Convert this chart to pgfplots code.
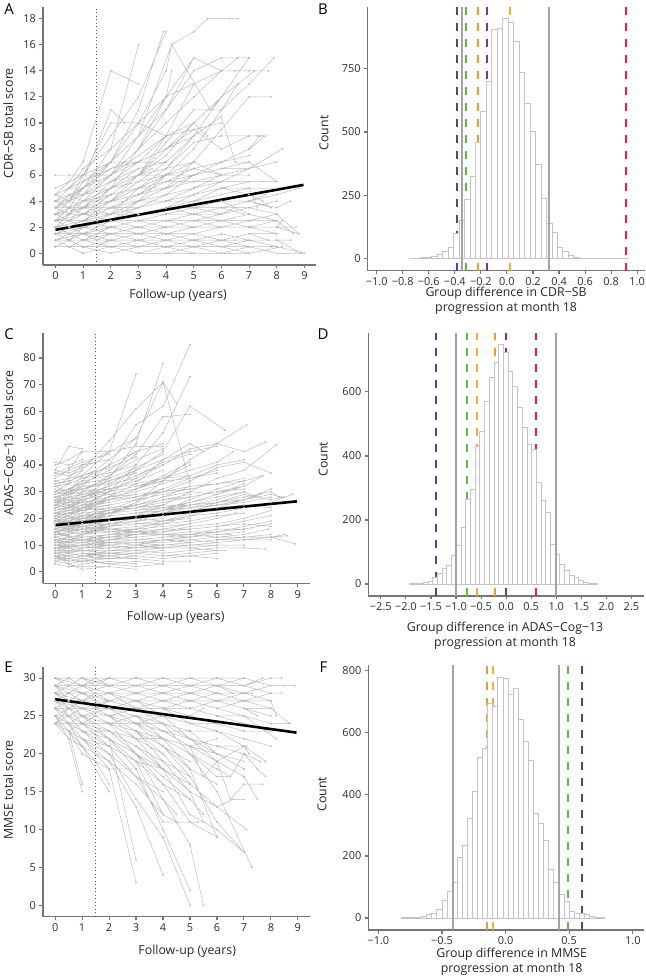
\documentclass[border=0pt]{standalone}
\usepackage{fontspec}
\setmainfont{Open Sans}
\usepackage{pgfplots}
\usepackage{pgfplotstable}
\pgfplotsset{compat=1.18}

\definecolor{trajgray}{HTML}{BDBDBD}
\definecolor{dotgray}{HTML}{A5A5A5}
\definecolor{histgray}{HTML}{C4C4C4}
\definecolor{solidgray}{HTML}{A3A3A3}
\definecolor{axgray}{HTML}{757575}
\definecolor{vblue}{HTML}{3A4F9A}
\definecolor{vgreen}{HTML}{5CB947}
\definecolor{vorange}{HTML}{EE9B2E}
\definecolor{vyellow}{HTML}{E6B23A}
\definecolor{vpurple}{HTML}{7B3294}
\definecolor{vred}{HTML}{E3242B}

% permutation histograms: left bin edge, count (last row = right edge)
\pgfplotstableread{
x y
-0.746 2
-0.704 3
-0.662 4
-0.620 4
-0.578 9
-0.536 16
-0.494 29
-0.452 45
-0.410 100
-0.368 153
-0.326 235
-0.284 326
-0.242 459
-0.200 582
-0.158 700
-0.116 905
-0.074 907
-0.032 947
0.010 931
0.052 859
0.094 734
0.136 612
0.178 501
0.220 372
0.262 236
0.304 140
0.346 105
0.388 46
0.430 29
0.472 13
0.514 7
0.556 3
0.598 0
0.640 0
0.682 0
0.724 0
0.766 0
0.808 0
0.850 0
0.892 0
0.934 0
}\histB

\pgfplotstableread{
x y
-1.935 1
-1.841 2
-1.747 3
-1.653 5
-1.559 8
-1.465 22
-1.371 33
-1.277 48
-1.183 58
-1.089 90
-0.995 121
-0.901 178
-0.807 265
-0.713 296
-0.619 431
-0.525 476
-0.431 569
-0.337 645
-0.243 691
-0.149 748
-0.055 722
0.039 665
0.133 618
0.227 551
0.321 488
0.415 436
0.509 419
0.603 318
0.697 260
0.791 223
0.885 124
0.979 93
1.073 62
1.167 42
1.261 27
1.355 20
1.449 10
1.543 6
1.637 3
1.731 1
1.825 1
}\histD

\pgfplotstableread{
x y
-0.82 1
-0.78 1
-0.74 2
-0.70 3
-0.66 5
-0.62 10
-0.58 14
-0.54 27
-0.50 56
-0.46 84
-0.42 116
-0.38 194
-0.34 234
-0.30 320
-0.26 407
-0.22 517
-0.18 549
-0.14 694
-0.10 682
-0.06 778
-0.02 772
0.02 723
0.06 740
0.10 640
0.14 569
0.18 510
0.22 337
0.26 304
0.30 250
0.34 158
0.38 116
0.42 75
0.46 54
0.50 20
0.54 16
0.58 14
0.62 10
0.66 4
0.70 1
0.74 1
0.78 1
}\histF

\pgfplotsset{
  panel/.style={
    scale only axis,
    axis x line*=bottom, axis y line*=left,
    axis line style={draw=axgray, line width=1.1bp, -},
    tick style={draw=axgray, line width=1.1bp},
    tick align=outside, major tick length=3.5bp,
    tick label style={font=\fontsize{11}{12}\selectfont, text=black!82},
    /pgf/number format/assume math mode=true,
    /pgf/number format/1000 sep={},
    label style={font=\fontsize{12.4}{15}\selectfont, text=black!85},
    xlabel style={align=center, anchor=center},
    ylabel style={anchor=center},
  },
  traj/.style={trajgray, line width=0.5bp, mark=*, mark size=0.55bp,
    mark options={fill=dotgray, draw=none}, unbounded coords=jump},
  vdash/.style={line width=2bp, dash pattern=on 8bp off 8bp},
  vsolid/.style={draw=solidgray, line width=1.8bp},
  hist/.style={ybar interval, draw=histgray, fill=white, line width=0.9bp},
  fup/.style={draw=black!65, line width=0.9bp, dash pattern=on 0.9bp off 2.6bp},
}

\begin{document}
\begin{tikzpicture}
\useasboundingbox (0,0) rectangle (646bp,978bp);

% ---------------- A: CDR-SB trajectories
\begin{axis}[panel, at={(43bp,713bp)}, anchor=south west,
  width=273bp, height=258bp,
  xmin=-0.45, xmax=9.42, ymin=-0.9, ymax=18.9,
  xtick={0,1,...,9}, ytick={0,2,...,18},
  xlabel={Follow-up (years)}, ylabel={CDR−SB total score},
  xlabel style={at={(axis description cs:0.495,-0.116)}},
  ylabel style={at={(axis description cs:-0.127,0.55)}},
]
\addplot[traj] coordinates {
(0,3)(0.5,4)(1,5)(2,7)(3,10)(4,14)(4.2,16)(5,17)(5.5,18)(6.3,18)(6.6,18)(nan,nan)
(0,4)(0.5,5)(1,6)(2,9)(3,12)(4,17)(nan,nan)
(0,2.5)(0.5,3)(1,4.5)(2,7)(3,11)(3.9,17)(nan,nan)
(0,3.5)(1,5)(1.5,6.5)(2,8)(3,16)(nan,nan)
(0,4.5)(0.5,5.5)(1,7)(2,14)(3,13)(nan,nan)
(0,2)(0.5,3)(1,4)(2,6)(3,9)(4.2,16)(5.6,11)(6,12)(nan,nan)
(0,3)(1,4)(2,5)(3,8)(4,11)(5,15)(6,14)(6.6,15)(7,15)(nan,nan)
(0,2)(1,2.5)(2,4)(3,6)(4,9)(5,13)(6,14)(7,14)(7.7,14)(nan,nan)
(0,1.5)(1,2)(2,3)(3,4)(4,6)(5,8)(6,11)(7,13)(7.9,15)(nan,nan)
(0,4)(0.5,5)(1,6)(1.5,8)(2,10)(3,10)(nan,nan)
(0,3)(0.5,4)(1,5.5)(2,11)(2.5,10)(nan,nan)
(0,2.5)(1,3.5)(2,5)(3,8)(4,12)(4.2,14)(nan,nan)
(0,3.5)(0.5,4)(1,6)(2,7)(3,10)(4,9)(nan,nan)
(0,1)(1,1.5)(2,2.5)(3,4)(4,5)(5,7)(6,9.5)(7,12)(7.8,12)(nan,nan)
(0,2)(1,2.5)(2,3)(3,5)(4,6.5)(5,9)(6,10.5)(6.5,7)(7,7)(nan,nan)
(0,3)(1,4)(2,6)(3,7)(4,8)(5,9.5)(6,8)(7,9)(7.5,9)(nan,nan)
(0,2.5)(0.5,3)(1,4)(2,5)(3,6)(4,6.5)(5,8.5)(6,9)(7,9)(7.3,9)(nan,nan)
(0,1.5)(1,2)(2,2.5)(3,3)(4,3.5)(5,4.5)(6,5.5)(7,6.5)(8.2,8)(nan,nan)
(0,4)(1,6)(2,7)(3,7)(nan,nan)
(0,3)(0.5,3.5)(1,5)(2,6)(3,9)(4,12)(5,15)(nan,nan)
(0,2)(1,3)(2,4)(3,6)(4,8.5)(5,11)(6,11)(6.6,13)(nan,nan)
(0,2)(0.5,2.5)(1,3)(2,3.5)(3,4.5)(4,5)(5,6)(6,6.5)(7,7)(8,5.5)(nan,nan)
(0,1.5)(0.5,2)(1,2)(2,3)(3,3.5)(4,4)(5,4)(6,5)(7,4.5)(7.5,4)(nan,nan)
(0,3)(0.5,3)(1,3.5)(2,4)(3,5)(4,5.5)(nan,nan)
(0,2.5)(0.5,3)(1,3)(2,4)(3,4.5)(4,6)(5,6)(nan,nan)
(0,3.5)(0.5,4)(1,4.5)(2,5)(3,6)(4,6)(nan,nan)
(0,4)(0.5,4)(1,5)(1.5,5.5)(2,6)(nan,nan)
(0,4.5)(0.5,5)(1,5)(2,6)(nan,nan)
(0,3)(0.5,3.5)(1,4)(2,4.5)(3,5)(4,5)(5,5.5)(6,5.5)(7,5.5)(8,5.5)(nan,nan)
(0,2)(1,2.5)(2,3)(3,3)(4,3.5)(5,4)(6,4)(7,4)(7.8,3.5)(nan,nan)
(0,2.5)(1,3)(2,3.5)(3,4)(4,4)(5,4.5)(6,5)(7,5)(7.3,3.5)(nan,nan)
(0,1)(0.5,1.5)(1,2)(2,2.5)(3,3)(4,3)(5,3.5)(6,4)(7,3)(8,2.5)(nan,nan)
(0,3)(1,3.5)(2,4)(3,4)(nan,nan)
(0,2)(0.5,2.5)(1,3)(2,3.5)(3,3.5)(4,4.5)(5,5)(nan,nan)
(0,1.5)(0.5,2)(1,2.5)(2,2.5)(3,3)(4,3.5)(5,3)(6,3.5)(7,3.5)(8,3)(8.8,1.5)(nan,nan)
(0,4)(0.5,4.5)(1,4.5)(2,5.5)(3,6)(nan,nan)
(0,2.5)(0.5,2.5)(1,3)(1.5,3.5)(2,4)(3,4.5)(4,5.5)(5,6)(6,6.5)(7,6.5)(nan,nan)
(0,1)(0.5,1)(1,1)(2,1)(3,1)(4,1.5)(5,1)(6,1.5)(7,1)(8,1)(8.5,1)(nan,nan)
(0,0.5)(0.5,0.5)(1,0.5)(2,0)(3,0.5)(4,0.5)(5,0)(6,0)(7,0.5)(8,0)(8.9,0)(nan,nan)
(0,1.5)(0.5,1)(1,1.5)(2,1.5)(3,2)(4,1.5)(5,2)(6,2)(7,2)(8,2)(8.8,1.5)(nan,nan)
(0,2)(0.5,2)(1,1.5)(2,2)(3,2)(4,2.5)(5,2)(6,2.5)(7,2.5)(8,2.5)(nan,nan)
(0,1)(0.5,0.5)(1,0.5)(2,0.5)(3,0)(4,0)(5,0.5)(6,0.5)(7,0)(8.2,0.5)(nan,nan)
(0,0.5)(0.5,1)(1,1)(2,0.5)(3,1)(4,1)(5,1)(6,0.5)(7,1)(8,1)(8.9,0)(nan,nan)
(0,1.5)(0.5,1.5)(1,2)(2,1.5)(3,1.5)(4,1)(5,1.5)(6,1)(7,1.5)(7.7,1)(nan,nan)
(0,2.5)(0.5,2)(1,2)(2,1.5)(3,1.5)(4,1)(5,1)(6,1)(7,1.5)(8,1.5)(nan,nan)
(0,1)(1,1)(2,1.5)(3,1)(4,1)(5,1.5)(6,2)(7,2)(8,2.5)(8.6,1.5)(nan,nan)
(0,2)(0.5,1.5)(1,1.5)(2,1)(3,0.5)(4,0.5)(5,0.5)(6,0)(7,0)(nan,nan)
(0,3)(0.5,2.5)(1,2.5)(2,2)(3,2)(4,1.5)(5,1.5)(6,2)(7,2)(8,2)(nan,nan)
(0,1.5)(1,2)(2,2)(3,2.5)(4,2.5)(5,3)(6,3)(7,3.5)(8,3)(nan,nan)
(0,0.5)(0.5,0.5)(1,1)(2,1)(3,1.5)(4,1.5)(5,2)(6,2)(7,2.5)(nan,nan)
(0,1)(0.5,1.5)(1,1)(2,1)(3,1)(4,0.5)(5,0.5)(6,0.5)(7,0.5)(7.8,0.5)(nan,nan)
(0,2)(0.5,2.5)(1,2)(2,2.5)(3,2.5)(4,3)(5,3)(6,2.5)(7,2)(8,2)(8.2,2.5)(nan,nan)
(0,3.5)(0.5,3)(1,3)(2,2.5)(3,2.5)(4,2)(5,2)(6,2.5)(7,2.5)(nan,nan)
(0,2.5)(0.5,2)(1,2.5)(2,3)(3,3)(4,3)(5,3.5)(6,3)(6.5,3.5)(7,3)(nan,nan)
(0,1.5)(0.5,1)(1,0.5)(2,0.5)(3,1)(4,1)(5,0.5)(6,1)(6.5,1)(nan,nan)
(0,0.5)(1,0.5)(2,0.5)(3,0)(4,0)(5,0)(6,0)(6.3,0)(nan,nan)
(0,1)(0.5,1.5)(1,2)(nan,nan)
(0,2)(0.5,2)(1,2.5)(2,3)(nan,nan)
(0,3)(0.5,3.5)(1,3)(nan,nan)
(0,4)(0.5,4.5)(1,4)(nan,nan)
(0,1.5)(0.5,1)(1,1.5)(2,1)(nan,nan)
(0,2.5)(0.5,3)(1,3.5)(2,4.5)(nan,nan)
(0,3.5)(0.5,3)(1,3.5)(2,3)(nan,nan)
(0,0.5)(0.5,1)(1,0.5)(2,1)(nan,nan)
(0,2)(0.5,2.5)(1,3)(1.5,3)(2,3.5)(nan,nan)
(0,3)(0.5,3.5)(1,4)(2,5)(nan,nan)
(0,4.5)(0.5,5)(1,5.5)(2,7)(nan,nan)
(0,1)(0.5,1.5)(1,1.5)(2,2)(3,2)(nan,nan)
(0,1.5)(0.5,2)(1,2)(2,2.5)(3,3)(4,3)(nan,nan)
(0,2.5)(0.5,2)(1,2)(2,2)(3,2.5)(4,2.5)(nan,nan)
(0,3)(0.5,2.5)(1,3)(2,3.5)(3,3)(nan,nan)
(0,0.5)(0.5,0.5)(1,0)(2,0.5)(nan,nan)
(0,4)(0.5,3.5)(1,4)(2,4.5)(3,5)(nan,nan)
(0,3.5)(0.5,4)(1,5)(2,6)(3,7)(4,7)(nan,nan)
(0,2)(0.5,1.5)(1,2)(2,2)(3,1.5)(nan,nan)
(0,1)(0.5,1)(1,1.5)(2,1.5)(3,2)(4,2)(5,2.5)(nan,nan)
(0,2.5)(0.5,3)(1,3)(2,3.5)(nan,nan)
(0,1.5)(0.5,2)(1,1.5)(nan,nan)
(0,3)(0.5,3)(1,3.5)(2,4)(3,4.5)(4,5)(5,6)(6,7)(nan,nan)
(0,4)(0.5,5)(1,5.5)(2,6.5)(3,7)(nan,nan)
(0,2)(0.5,2.5)(1,2)(2,3)(3,3.5)(4,4)(nan,nan)
(0,0.5)(0.5,1)(1,1)(2,1.5)(3,1)(4,1.5)(5,1)(nan,nan)
(0,1.5)(1,1.5)(2,2)(3,2)(4,2.5)(5,2.5)(6,3)(nan,nan)
(0,3.5)(0.5,3.5)(1,4)(2,4)(3,5)(4,6)(5,7)(6,6)(nan,nan)
(0,2.5)(1,3)(2,2.5)(3,3)(4,3.5)(nan,nan)
(0,1)(0.5,1)(1,1)(2,0.5)(3,0.5)(4,1)(nan,nan)
(0,2)(0.5,2)(1,2.5)(2,2.5)(3,2)(4,2)(5,2.5)(6,2.5)(7,3)(8,2.5)(nan,nan)
(0,3)(0.5,3.5)(1,3.5)(2,3)(3,3.5)(4,4)(nan,nan)
(0,4)(0.5,4)(1,4.5)(2,5)(3,6.5)(nan,nan)
(0,1.5)(0.5,1.5)(1,2)(2,2)(3,2.5)(4,3)(5,3.5)(6,4)(7,4.5)(nan,nan)
(0,1)(0.5,1.5)(1,2)(1.5,2.5)(2,3)(3,4)(4,5)(5,5.5)(nan,nan)
(0,2)(0.5,2.5)(1,3.5)(1.5,4)(2,5)(3,6)(4,6.5)(5,7)(nan,nan)
(0,3)(0.5,3)(1,4)(1.5,4.5)(2,5.5)(3,6.5)(4,7)(nan,nan)
(0,4)(0.5,4.5)(1,5)(1.5,6)(2,7)(3,7)(4,8)(5,9)(nan,nan)
(0,0.5)(0.5,1)(1,1.5)(1.5,1.5)(2,2)(3,2.5)(4,3)(5,3.5)(6,3)(nan,nan)
(0,1.5)(0.5,2)(1,2.5)(1.5,3)(2,3.5)(3,4.5)(4,5.5)(5,6.5)(6,6)(nan,nan)
(0,2.5)(0.5,3)(1,3.5)(1.5,4.5)(2,5.5)(3,7)(4,8)(nan,nan)
(0,3.5)(0.5,4)(1,4.5)(1.5,5)(2,6)(3,7.5)(4,9)(5,10)(nan,nan)
(0,4.5)(0.5,5)(1,6)(1.5,6.5)(2,7)(nan,nan)
(0,5)(0.5,5.5)(1,6)(2,6)(nan,nan)
(0,6)(0.5,6)(1,6)(1.5,6)(nan,nan)
(0,2)(0.5,2)(1,2)(1.5,2.5)(2,2.5)(3,3)(4,3.5)(5,4)(6,4.5)(7,5)(8,5)(nan,nan)
(0,1)(0.5,1)(1,1)(1.5,1.5)(2,1.5)(3,2)(4,2)(5,2)(6,2.5)(7,2)(8,1.5)(nan,nan)
(0,3)(0.5,3.5)(1,3.5)(1.5,4)(2,4.5)(3,5)(4,5.5)(5,5.5)(6,6)(7,6)(nan,nan)
(0,0.5)(0.5,0.5)(1,0.5)(1.5,0.5)(2,1)(3,0.5)(4,0.5)(5,1)(6,1)(7,1)(8,0.5)(nan,nan)
(0,1.5)(0.5,1.5)(1,1.5)(1.5,1)(2,1.5)(3,1.5)(4,2)(5,2.5)(6,3)(7,3.5)(8,4)(nan,nan)
(0,2.5)(0.5,2.5)(1,2)(1.5,2.5)(2,3)(3,3.5)(4,4)(5,5)(6,5.5)(nan,nan)
(0,3.5)(0.5,3)(1,3)(1.5,3.5)(2,3.5)(3,4)(4,4.5)(5,5)(nan,nan)
(0,4)(0.5,4)(1,3.5)(1.5,4)(2,4)(3,4.5)(4,5)(nan,nan)
(0,2)(0.5,3)(1,3)(2,4)(3,5.5)(4,7)(5,9)(6,12)(7.2,14)(nan,nan)
(0,1)(0.5,1)(1,2)(2,2.5)(3,3.5)(4,4.5)(5,6)(6,7)(7,8)(7.6,9)(nan,nan)
(0,3)(0.5,4)(1,4.5)(2,6)(3,8)(4,10)(5,12)(6,14)(6.5,14)(nan,nan)
(0,2.5)(1,3.5)(2,4.5)(3,6)(4,7.5)(5,10)(6,12)(7,15)(nan,nan)
(0,4)(0.5,5)(1,6.5)(2,8)(3,10)(4,12)(5,13)(nan,nan)
(0,3.5)(0.5,4.5)(1,5)(2,7)(3,9)(4,11)(5,14)(6,15)(6.6,15)(nan,nan)
(0,3)(1,3.5)(2,5)(3,6)(4,8)(5,10)(5.5,9)(nan,nan)
(0,1.5)(0.5,1.5)(1,2)(2,2)(3,2.5)(4,3)(5,3)(6,3.5)(7,4)(8,4.5)(8.8,5)(nan,nan)
(0,2)(0.5,2)(1,2.5)(2,3)(3,3)(4,3.5)(5,3.5)(6,4)(7,4)(7.6,4.5)(nan,nan)
(0,0.5)(0.5,1)(1,1)(2,1.5)(3,1.5)(4,2)(5,2)(6,2.5)(7,2)(8,2)(8.7,2)(nan,nan)
(0,1)(0.5,0.5)(1,1)(2,1)(3,1.5)(4,1)(5,1)(6,1.5)(7,1)(8,1)(nan,nan)
(0,1.5)(0.5,2)(1,1.5)(2,1.5)(3,2)(4,2)(5,2.5)(6,2)(7,2.5)(8,3)(nan,nan)
(0,2)(0.5,1.5)(1,1)(2,1)(3,1)(4,0.5)(5,0.5)(6,1)(7,0.5)(8,0.5)(9,0)(nan,nan)
(0,3)(0.5,2.5)(1,2)(2,2)(3,1.5)(4,1.5)(5,1)(6,1)(nan,nan)
(0,2.5)(0.5,2.5)(1,3)(2,3.5)(3,4.5)(4,5)(5,6)(6,7)(7,8)(7.4,9)(nan,nan)
(0,1)(0.5,1.5)(1,1.5)(1.5,2)(2,2)(3,2.5)(nan,nan)
(0,2)(0.5,2.5)(1,2.5)(1.5,3)(2,3)(3,3.5)(nan,nan)
(0,3)(0.5,3)(1,3)(1.5,3.5)(2,4)(3,4)(nan,nan)
(0,4)(0.5,4)(1,4.5)(1.5,5)(2,5.5)(3,6)(nan,nan)
(0,0.5)(0.5,0.5)(1,1)(1.5,1)(2,1)(nan,nan)
(0,1.5)(0.5,1.5)(1,1)(1.5,1.5)(2,1.5)(3,1.5)(nan,nan)
(0,2.5)(0.5,2)(1,2.5)(1.5,2.5)(2,3)(3,3)(nan,nan)
(0,3.5)(0.5,3.5)(1,3)(1.5,3.5)(2,4)(3,4.5)(nan,nan)
(0,4.5)(0.5,4)(1,4.5)(2,5)(3,5.5)(4,6)(nan,nan)
(0,1)(0.5,1)(1,0.5)(2,0.5)(3,0)(4,0.5)(nan,nan)
(0,2)(0.5,2)(1,1.5)(2,2)(3,1.5)(4,1)(5,1.5)(nan,nan)
(0,3)(0.5,2.5)(1,2.5)(2,2)(3,2.5)(4,2)(nan,nan)
(0,2)(1,3)(2,4.5)(3,5)(4,6)(5,6.5)(6,7)(7,7.5)(nan,nan)
(0,1.5)(1,2)(2,3)(3,3.5)(4,4.5)(5,5)(6,6)(7,6.5)(8,7)(nan,nan)
(0,3.5)(1,4.5)(2,6)(3,7)(4,9)(5,9.5)(6,10)(nan,nan)
(0,2.5)(0.5,3.5)(1,4)(2,5)(3,6)(3.5,6.5)(nan,nan)
(0,4)(0.5,4.5)(1,5)(2,6.5)(2.5,7)(3,8)(nan,nan)
(0,1)(0.5,1.5)(1,2)(2,2.5)(3,3.5)(4,4)(5,4.5)(6,5)(nan,nan)
(0,0.5)(0.5,1)(1,1.5)(2,2)(3,2)(4,2.5)(5,3)(6,3)(7,3.5)(nan,nan)
(0,2)(0.5,2)(1,2)(2,2.5)(3,3)(4,3)(5,3.5)(6,3.5)(7,4)(8,3.5)(8.5,4)(nan,nan)
(0,3)(0.5,3)(1,3.5)(2,3.5)(3,4)(4,4)(5,4.5)(6,5)(7,5.5)(7.5,5.5)(nan,nan)
(0,1.5)(0.5,2)(1,2)(2,2.5)(3,2.5)(4,3)(5,3)(6,3.5)(6.8,3)(nan,nan)
};
\addplot[fup] coordinates {(1.5,-0.9) (1.5,18.9)};
\addplot[black, line width=2.6bp] coordinates {(0,1.8) (8.97,5.25)};
\end{axis}

% ---------------- B: CDR-SB permutation histogram
\begin{axis}[panel, at={(367.7bp,707.3bp)}, anchor=south west,
  width=277.3bp, height=263.4bp,
  xmin=-1.069, xmax=1.06, ymin=-47, ymax=992,
  xtick={-1,-0.8,-0.6,-0.4,-0.2,0,0.2,0.4,0.6,0.8,1},
  xticklabels={−1.0,−0.8,−0.6,−0.4,−0.2,0.0,0.2,0.4,0.6,0.8,1.0},
  ytick={0,250,500,750},
  xlabel={Group difference in CDR−SB\\progression at month 18}, ylabel={Count},
  xlabel style={at={(axis description cs:0.499,-0.115)}},
  ylabel style={at={(axis description cs:-0.158,0.523)}},
]
\addplot[vdash, draw=vblue] coordinates {(-0.384,-47) (-0.384,992)};
\addplot[vdash, draw=vgreen] coordinates {(-0.315,-47) (-0.315,992)};
\addplot[vdash, draw=vorange] coordinates {(-0.22,-47) (-0.22,992)};
\addplot[vdash, draw=vpurple] coordinates {(-0.151,-47) (-0.151,992)};
\addplot[vdash, draw=vyellow] coordinates {(0.023,-47) (0.023,992)};
\addplot[vdash, draw=vred] coordinates {(0.913,-47) (0.913,992)};
\addplot[hist] table[x=x, y=y] {\histB};
\addplot[vsolid] coordinates {(-0.348,-47) (-0.348,992)};
\addplot[vsolid] coordinates {(0.325,-47) (0.325,992)};
\end{axis}

% ---------------- C: ADAS-Cog-13 trajectories
\begin{axis}[panel, at={(43bp,394.7bp)}, anchor=south west,
  width=267bp, height=250bp,
  xmin=-0.45, xmax=9.45, ymin=-4.25, ymax=89.25,
  xtick={0,1,...,9}, ytick={0,10,...,80},
  xlabel={Follow-up (years)}, ylabel={ADAS−Cog−13 total score},
  xlabel style={at={(axis description cs:0.497,-0.134)}},
  ylabel style={at={(axis description cs:-0.124,0.561)}},
]
\addplot[traj] coordinates {
(0,25)(0.5,28)(1,32)(2,40)(3,55)(4,62)(5,85)(nan,nan)
(0,22)(0.5,24)(1,27)(2,35)(3,48)(4,78)(nan,nan)
(0,28)(0.5,30)(1,36)(2,45)(3,74)(nan,nan)
(0,20)(1,24)(2,30)(3,40)(4,52)(5,73)(nan,nan)
(0,30)(0.5,33)(1,38)(2,49)(3,61)(4,71)(4.5,63)(nan,nan)
(0,18)(1,22)(2,28)(3,38)(4,45)(5,62)(6.3,53)(nan,nan)
(0,24)(0.5,26)(1,30)(2,36)(3,44)(4,58)(5,59)(nan,nan)
(0,15)(1,18)(2,21)(3,26)(4,34)(5,42)(6,48)(7.1,55)(nan,nan)
(0,32)(0.5,35)(1,40)(2,45)(3,50)(4,71)(5,33)(nan,nan)
(0,26)(0.5,29)(1,33)(2,38)(3,45)(4,48)(nan,nan)
(0,35)(0.5,38)(1,45)(2,45)(3,47)(4,47)(nan,nan)
(0,21)(0.5,23)(1,25)(2,30)(3,35)(4,40)(5,46)(6,48)(7,45)(7.8,48.5)(nan,nan)
(0,12)(1,14)(2,17)(3,21)(4,25)(5,30)(6,35)(7,38)(8.2,47.5)(nan,nan)
(0,17)(1,19)(2,22)(3,26)(4,30)(5,34)(6,39)(7,41)(8,37)(nan,nan)
(0,38)(0.5,47)(1,46)(nan,nan)
(0,40)(0.5,42)(1,45)(nan,nan)
(0,27)(0.5,30)(1,34)(2,42)(3,50)(nan,nan)
(0,19)(0.5,21)(1,24)(2,28)(3,33)(4,42)(5,48)(5.5,45)(nan,nan)
(0,23)(1,26)(2,33)(3,38)(4,42)(5,45)(6,47)(nan,nan)
(0,29)(0.5,31)(1,34)(2,36)(3,42)(4,46)(nan,nan)
(0,14)(0.5,15)(1,16)(2,17)(3,18)(4,19)(5,21)(6,22)(7,24)(8,26)(8.8,29)(nan,nan)
(0,10)(0.5,10)(1,11)(2,10)(3,11)(4,12)(5,12)(6,11)(7,12)(8,13)(8.9,10.5)(nan,nan)
(0,9)(0.5,8)(1,9)(2,10)(3,9)(4,10)(5,11)(6,12)(7,13)(8,13)(8.5,14)(nan,nan)
(0,20)(0.5,21)(1,20)(2,22)(3,23)(4,24)(5,25)(6,27)(7,30)(7.5,28)(nan,nan)
(0,16)(0.5,17)(1,17)(2,18)(3,20)(4,21)(5,23)(6,25)(7,26)(8,28)(nan,nan)
(0,12)(0.5,12)(1,13)(2,13)(3,14)(4,15)(5,16)(6,17)(7,18)(8,17)(nan,nan)
(0,6)(0.5,7)(1,6)(2,7)(3,8)(4,7)(5,8)(6,9)(7,9)(7.8,8.5)(nan,nan)
(0,8)(0.5,9)(1,10)(2,11)(3,12)(4,13)(5,14)(6,16)(7,16)(7.3,16.5)(nan,nan)
(0,18)(1,19)(2,20)(3,21)(4,21)(5,23)(6,24)(7,25)(8,24)(nan,nan)
(0,25)(0.5,26)(1,26)(2,28)(3,29)(4,30)(5,32)(6,33)(7,34)(nan,nan)
(0,22)(0.5,22)(1,23)(2,24)(3,25)(4,27)(5,28)(6,30)(7,32)(7.7,36)(nan,nan)
(0,11)(1,12)(2,12)(3,13)(4,14)(5,15)(6,15)(7,16)(nan,nan)
(0,14)(0.5,14)(1,15)(2,16)(3,16)(4,17)(5,18)(6,20)(6.7,22)(nan,nan)
(0,7)(0.5,8)(1,8)(2,7)(3,8)(4,9)(5,9)(6,10)(7,10)(nan,nan)
(0,19)(0.5,20)(1,21)(2,23)(3,25)(4,28)(5,30)(6,29)(7,33)(nan,nan)
(0,28)(0.5,29)(1,30)(2,31)(3,33)(4,35)(5,36)(6,40)(7,42)(nan,nan)
(0,13)(0.5,12)(1,13)(2,14)(3,15)(4,15)(5,17)(6,18)(7,20)(8,23)(nan,nan)
(0,10)(0.5,11)(1,11)(2,12)(3,12)(4,13)(5,13)(6,14)(6.5,14)(nan,nan)
(0,15)(0.5,16)(1,17)(2,19)(3,21)(4,23)(5,25)(6,26)(7,28)(8,30)(8.3,28)(nan,nan)
(0,5)(0.5,5)(1,6)(2,6)(3,7)(4,6)(5,7)(6,8)(6.3,8)(nan,nan)
(0,17)(1,18)(2,19)(3,20)(4,22)(5,24)(6,26)(7,27)(7.6,29)(nan,nan)
(0,24)(0.5,25)(1,27)(2,30)(3,32)(4,35)(5,38)(6,41)(6.6,45)(nan,nan)
(0,9)(1,10)(2,10)(3,11)(4,11)(5,12)(6,13)(7,14)(7.9,16)(nan,nan)
(0,21)(0.5,22)(1,22)(2,23)(3,24)(4,25)(5,25)(6,26)(7,27)(nan,nan)
(0,8)(0.5,9)(1,8)(2,9)(nan,nan)
(0,12)(0.5,13)(1,12)(2,14)(nan,nan)
(0,15)(0.5,14)(1,16)(nan,nan)
(0,18)(0.5,20)(1,19)(2,21)(nan,nan)
(0,22)(0.5,21)(1,23)(2,24)(nan,nan)
(0,26)(0.5,28)(1,27)(nan,nan)
(0,30)(0.5,31)(1,33)(2,35)(nan,nan)
(0,33)(0.5,34)(1,36)(nan,nan)
(0,36)(0.5,38)(1,40)(2,42)(nan,nan)
(0,4)(0.5,3)(1,4)(2,5)(nan,nan)
(0,6)(0.5,5)(1,6)(2,7)(3,6)(nan,nan)
(0,10)(0.5,11)(1,12)(2,11)(3,12)(nan,nan)
(0,14)(0.5,15)(1,14)(2,15)(3,16)(4,17)(nan,nan)
(0,16)(0.5,18)(1,17)(2,19)(3,20)(nan,nan)
(0,19)(0.5,18)(1,20)(2,22)(3,23)(4,25)(nan,nan)
(0,23)(0.5,24)(1,25)(2,27)(3,29)(nan,nan)
(0,27)(0.5,26)(1,28)(2,31)(3,34)(4,38)(nan,nan)
(0,31)(0.5,30)(1,32)(2,33)(3,35)(nan,nan)
(0,3)(0.5,2)(1,3)(2,4)(3,3)(nan,nan)
(0,7)(0.5,6)(1,7)(2,6)(3,7)(4,8)(nan,nan)
(0,11)(0.5,10)(1,11)(2,12)(nan,nan)
(0,13)(0.5,14)(1,15)(2,16)(3,17)(nan,nan)
(0,17)(0.5,16)(1,18)(2,18)(nan,nan)
(0,20)(0.5,22)(1,21)(2,23)(3,24)(4,26)(nan,nan)
(0,24)(0.5,23)(1,24)(2,25)(nan,nan)
(0,29)(0.5,30)(1,29)(2,32)(nan,nan)
(0,34)(0.5,33)(1,35)(2,37)(3,40)(nan,nan)
(0,37)(0.5,36)(1,38)(nan,nan)
(0,41)(0.5,40)(1,42)(nan,nan)
(0,9)(0.5,10)(1,10)(2,11)(3,10)(4,12)(5,11)(nan,nan)
(0,5)(0.5,6)(1,5)(2,6)(3,5)(4,4)(nan,nan)
(0,12)(0.5,11)(1,12)(2,13)(3,14)(4,14)(5,15)(nan,nan)
(0,16)(0.5,15)(1,16)(2,17)(3,18)(4,19)(5,20)(nan,nan)
(0,20)(0.5,19)(1,21)(2,22)(3,24)(4,27)(5,29)(nan,nan)
(0,26)(0.5,27)(1,29)(2,32)(3,36)(4,41)(5,44)(nan,nan)
(0,8)(0.5,7)(1,8)(2,8)(3,9)(4,9)(5,10)(6,11)(nan,nan)
(0,14)(1,13)(2,14)(3,15)(4,16)(5,16)(6,17)(7,18)(nan,nan)
(0,18)(0.5,17)(1,17)(2,18)(3,19)(4,20)(nan,nan)
(0,22)(0.5,24)(1,24)(2,26)(3,28)(4,31)(nan,nan)
(0,10)(1,9)(2,10)(3,11)(4,10)(5,11)(6,12)(7,13)(8,14)(nan,nan)
(0,6)(0.5,4)(1,5)(2,3)(3,4)(4,3)(nan,nan)
(0,13)(0.5,12)(1,14)(2,15)(nan,nan)
(0,25)(0.5,24)(1,26)(2,27)(3,28)(nan,nan)
(0,32)(0.5,30)(1,31)(2,34)(3,38)(4,42)(nan,nan)
(0,11)(0.5,13)(1,12)(2,13)(3,13)(4,14)(nan,nan)
(0,15)(0.5,17)(1,18)(2,20)(3,21)(nan,nan)
(0,8)(0.5,9)(1,10)(1.5,11)(2,12)(3,14)(4,16)(5,18)(nan,nan)
(0,12)(0.5,13)(1,14)(1.5,15)(2,17)(3,19)(4,22)(5,25)(nan,nan)
(0,16)(0.5,17)(1,19)(1.5,20)(2,22)(3,25)(4,28)(5,32)(nan,nan)
(0,20)(0.5,22)(1,23)(1.5,25)(2,27)(3,31)(4,35)(5,40)(nan,nan)
(0,24)(0.5,26)(1,28)(1.5,30)(2,32)(3,36)(4,40)(nan,nan)
(0,28)(0.5,29)(1,31)(1.5,33)(2,35)(3,39)(4,44)(nan,nan)
(0,32)(0.5,33)(1,35)(1.5,37)(2,40)(3,45)(nan,nan)
(0,6)(0.5,6)(1,7)(1.5,7)(2,8)(3,8)(4,9)(5,10)(6,10)(nan,nan)
(0,10)(0.5,9)(1,10)(1.5,10)(2,11)(3,12)(4,12)(5,13)(6,14)(7,15)(nan,nan)
(0,14)(0.5,14)(1,15)(1.5,15)(2,16)(3,17)(4,18)(5,19)(6,21)(nan,nan)
(0,18)(0.5,18)(1,19)(1.5,20)(2,21)(3,22)(4,24)(5,26)(6,28)(7,30)(nan,nan)
(0,22)(0.5,23)(1,23)(1.5,24)(2,25)(3,27)(4,29)(5,31)(nan,nan)
(0,26)(0.5,26)(1,27)(1.5,28)(2,29)(3,31)(4,34)(nan,nan)
(0,30)(0.5,31)(1,31)(1.5,32)(2,34)(3,37)(nan,nan)
(0,4)(0.5,5)(1,4)(1.5,5)(2,5)(3,6)(4,5)(5,6)(6,7)(nan,nan)
(0,7)(0.5,8)(1,8)(2,9)(3,9)(4,10)(5,10)(6,11)(7,12)(8,12)(nan,nan)
(0,11)(0.5,11)(1,12)(2,12)(3,13)(4,14)(5,14)(6,15)(7,16)(8,18)(nan,nan)
(0,15)(0.5,16)(1,16)(2,17)(3,18)(4,18)(5,19)(6,21)(7,22)(nan,nan)
(0,19)(0.5,19)(1,20)(2,21)(3,22)(4,23)(5,24)(6,25)(7,27)(8,29)(8.4,28)(nan,nan)
(0,23)(0.5,24)(1,25)(2,26)(3,28)(4,30)(5,31)(6,33)(7,35)(nan,nan)
(0,27)(0.5,28)(1,29)(2,30)(3,32)(4,34)(5,35)(6,37)(nan,nan)
(0,9)(0.5,8)(1,8)(2,7)(3,7)(4,6)(5,6)(6,5)(nan,nan)
(0,13)(0.5,12)(1,12)(2,11)(3,11)(4,10)(5,10)(nan,nan)
(0,17)(0.5,16)(1,16)(2,15)(3,15)(4,14)(5,14)(6,13)(7,13)(nan,nan)
(0,21)(0.5,20)(1,20)(2,19)(3,20)(4,19)(5,20)(nan,nan)
(0,25)(0.5,24)(1,24)(2,23)(3,24)(4,25)(nan,nan)
(0,5)(0.5,4)(1,4)(2,3)(3,2)(4,3)(nan,nan)
(0,8)(0.5,7)(1,6)(2,5)(3,5)(4,4)(5,4)(nan,nan)
(0,3)(0.5,2)(1,2)(2,2)(3,1)(nan,nan)
(0,6)(0.5,3)(1,1)(2,2)(nan,nan)
(0,9)(0.5,10)(1,11)(2,13)(3,15)(4,18)(5,21)(6,24)(7,27)(8,31)(nan,nan)
(0,13)(0.5,14)(1,15)(2,18)(3,20)(4,23)(5,27)(6,31)(7,34)(7.7,36)(nan,nan)
(0,17)(0.5,18)(1,20)(2,23)(3,27)(4,31)(5,35)(6,38)(nan,nan)
(0,21)(0.5,22)(1,24)(2,27)(3,31)(4,36)(5,41)(nan,nan)
(0,11)(1,12)(2,14)(3,16)(4,19)(5,22)(6,26)(7,29)(8,27)(8.5,28)(nan,nan)
(0,7)(1,8)(2,9)(3,10)(4,12)(5,13)(6,15)(7,17)(8,19)(nan,nan)
(0,15)(1,16)(2,18)(3,20)(4,23)(5,26)(6,29)(7,32)(nan,nan)
(0,10)(0.5,10)(1,10)(1.5,11)(2,11)(nan,nan)
(0,14)(0.5,15)(1,14)(1.5,16)(2,17)(nan,nan)
(0,18)(0.5,19)(1,18)(1.5,20)(2,21)(nan,nan)
(0,22)(0.5,22)(1,21)(1.5,23)(2,24)(nan,nan)
(0,26)(0.5,25)(1,26)(1.5,27)(2,28)(nan,nan)
(0,30)(0.5,29)(1,30)(1.5,31)(nan,nan)
(0,34)(0.5,35)(1,36)(1.5,38)(nan,nan)
(0,38)(0.5,37)(1,39)(1.5,41)(nan,nan)
(0,6)(0.5,7)(1,6)(1.5,7)(2,7)(nan,nan)
(0,9)(0.5,9)(1,10)(1.5,9)(2,10)(nan,nan)
(0,12)(0.5,11)(1,11)(1.5,12)(2,13)(nan,nan)
(0,16)(0.5,15)(1,17)(1.5,16)(2,18)(nan,nan)
(0,20)(0.5,21)(1,20)(1.5,22)(2,22)(nan,nan)
(0,24)(0.5,25)(1,23)(1.5,25)(2,26)(nan,nan)
(0,28)(0.5,27)(1,28)(1.5,29)(2,31)(nan,nan)
(0,8)(0.5,8)(1,9)(2,9)(3,10)(4,10)(5,11)(6,12)(7,12)(8,13)(8.6,13.5)(nan,nan)
(0,12)(0.5,12)(1,13)(2,14)(3,14)(4,15)(5,16)(6,17)(7,19)(8,21)(nan,nan)
(0,19)(0.5,20)(1,21)(2,22)(3,24)(4,26)(5,28)(6,30)(7,31)(nan,nan)
(0,24)(0.5,25)(1,26)(2,28)(3,30)(4,33)(5,36)(nan,nan)
(0,33)(0.5,34)(1,36)(2,39)(3,43)(nan,nan)
(0,37)(0.5,39)(1,41)(2,44)(nan,nan)
(0,15)(0.5,13)(1,12)(2,11)(3,10)(4,9)(5,9)(6,8)(nan,nan)
(0,20)(0.5,18)(1,17)(2,16)(3,15)(4,14)(5,13)(nan,nan)
};
\addplot[fup] coordinates {(1.5,-4.25) (1.5,89.25)};
\addplot[black, line width=2.6bp] coordinates {(0,17.5) (8.97,26.4)};
\end{axis}

% ---------------- D: ADAS-Cog-13 permutation histogram
\begin{axis}[panel, at={(368.3bp,382bp)}, anchor=south west,
  width=275.7bp, height=263.3bp,
  xmin=-2.75, xmax=2.75, ymin=-37.4, ymax=785,
  xtick={-2.5,-2,-1.5,-1,-0.5,0,0.5,1,1.5,2,2.5},
  xticklabels={−2.5,−2.0,−1.5,−1.0,−0.5,0.0,0.5,1.0,1.5,2.0,2.5},
  ytick={0,200,400,600},
  xlabel={Group difference in ADAS−Cog−13\\progression at month 18}, ylabel={Count},
  xlabel style={at={(axis description cs:0.496,-0.151)}},
  ylabel style={at={(axis description cs:-0.164,0.52)}},
]
\addplot[vdash, draw=vblue] coordinates {(-1.405,-37.4) (-1.405,785)};
\addplot[vdash, draw=vgreen] coordinates {(-0.79,-37.4) (-0.79,785)};
\addplot[vdash, draw=vyellow] coordinates {(-0.59,-37.4) (-0.59,785)};
\addplot[vdash, draw=vorange] coordinates {(-0.226,-37.4) (-0.226,785)};
\addplot[vdash, draw=vpurple] coordinates {(0.005,-37.4) (0.005,785)};
\addplot[vdash, draw=vred] coordinates {(0.605,-37.4) (0.605,785)};
\addplot[hist] table[x=x, y=y] {\histD};
\addplot[vsolid] coordinates {(-1.0,-37.4) (-1.0,785)};
\addplot[vsolid] coordinates {(1.0,-37.4) (1.0,785)};
\end{axis}

% ---------------- E: MMSE trajectories
\begin{axis}[panel, at={(43bp,61.3bp)}, anchor=south west,
  width=267bp, height=250bp,
  xmin=-0.45, xmax=9.45, ymin=-1.5, ymax=31.5,
  xtick={0,1,...,9}, ytick={0,5,...,30},
  xlabel={Follow-up (years)}, ylabel={MMSE total score},
  xlabel style={at={(axis description cs:0.54,-0.14)}},
  ylabel style={at={(axis description cs:-0.13,0.507)}},
]
\addplot[traj] coordinates {
(0,27)(0.5,26)(1,25)(2,22)(3,18)(4,10)(5,2)(nan,nan)
(0,26)(0.5,25)(1,23)(2,20)(3,14)(4,9)(5,0)(nan,nan)
(0,28)(0.5,27)(1,26)(2,24)(3,20)(4,14)(5,8)(5.5,0)(nan,nan)
(0,25)(0.5,24)(1,22)(2,18)(3,3)(nan,nan)
(0,26)(0.5,24)(1,22)(2,19)(3,13)(4,4)(nan,nan)
(0,27)(1,25)(2,22)(3,6)(nan,nan)
(0,24)(0.5,22)(1,15)(nan,nan)
(0,25)(0.5,23)(1,16)(nan,nan)
(0,26)(0.5,24)(1,21)(2,15)(nan,nan)
(0,28)(1,27)(2,26)(3,24)(4,21)(5,17)(6,11)(7,7)(nan,nan)
(0,29)(1,28)(2,27)(3,26)(4,24)(5,20)(6,15)(7.3,5)(nan,nan)
(0,28)(1,27)(2,26)(3,25)(4,22)(5,18)(6,9)(nan,nan)
(0,27)(0.5,27)(1,26)(2,25)(3,23)(4,19)(5,15)(6,13)(7.1,10)(nan,nan)
(0,26)(0.5,25)(1,24)(2,22)(3,19)(4,12)(4.5,11)(nan,nan)
(0,25)(0.5,24)(1,23)(2,20)(3,17)(4,11)(5.3,11)(nan,nan)
(0,29)(1,28)(2,28)(3,27)(4,25)(5,22)(6,19)(6.5,14)(7,16)(7.7,16)(nan,nan)
(0,28)(0.5,28)(1,27)(2,26)(3,25)(4,23)(5,21)(5.5,17)(6,19)(7,21)(7.2,20)(nan,nan)
(0,27)(1,26)(2,25)(3,24)(4,22)(5,20)(6,18)(6.5,17)(7,20)(7.5,18)(7.8,17)(nan,nan)
(0,30)(1,29)(2,28)(3,27)(4,26)(5,24)(6,23)(7,21)(7.8,19)(nan,nan)
(0,26)(0.5,24)(1,23)(2,22)(3,19)(4,18)(5,16)(nan,nan)
(0,24)(0.5,23)(1,20)(2,18)(3,18)(nan,nan)
(0,25)(0.5,22)(1,21)(1.5,19)(2,16)(nan,nan)
(0,27)(0.5,26)(1,24)(2,22)(3,20)(4,17)(5,14)(5.5,12)(nan,nan)
(0,28)(0.5,27)(1,26)(2,25)(3,23)(4,20)(5,16)(6,13)(6.6,14)(7,14)(nan,nan)
(0,29)(0.5,29)(1,28)(2,27)(3,26)(4,24)(5,23)(6,20)(7,18)(nan,nan)
(0,29)(0.5,30)(1,29)(2,30)(3,29)(4,30)(5,29)(6,30)(7,29)(8,30)(8.4,30)(nan,nan)
(0,30)(0.5,29)(1,30)(2,30)(3,30)(4,29)(5,30)(6,29)(7,30)(8,29)(8.9,29)(nan,nan)
(0,28)(0.5,28)(1,29)(2,28)(3,28)(4,27)(5,28)(6,27)(7,27)(8,26)(8.7,24)(nan,nan)
(0,27)(0.5,28)(1,27)(2,27)(3,26)(4,27)(5,26)(6,25)(7,25)(8.2,22)(nan,nan)
(0,29)(0.5,28)(1,28)(2,29)(3,28)(4,28)(5,27)(6,28)(7,27)(8,27)(8.2,25)(nan,nan)
(0,30)(0.5,30)(1,29)(2,29)(3,30)(4,30)(5,29)(6,29)(7,29)(7.7,30)(nan,nan)
(0,28)(0.5,29)(1,29)(2,28)(3,29)(4,29)(5,28)(6,28)(7,28)(nan,nan)
(0,26)(0.5,27)(1,27)(2,26)(3,27)(4,26)(5,26)(6,27)(7,26)(7.5,25)(nan,nan)
(0,25)(0.5,26)(1,25)(2,25)(3,24)(4,25)(5,24)(6,24)(7,23)(7.8,23)(nan,nan)
(0,29)(1,29)(2,30)(3,29)(4,29)(5,30)(6,30)(7,30)(nan,nan)
(0,27)(0.5,27)(1,28)(2,27)(3,27)(4,26)(5,27)(6,26)(7,27)(8,26)(nan,nan)
(0,30)(0.5,29)(1,29)(2,28)(3,29)(4,28)(5,28)(6,29)(6.6,28)(nan,nan)
(0,28)(0.5,27)(1,28)(2,28)(3,27)(4,28)(5,27)(6,27)(7,28)(7.3,28)(nan,nan)
(0,26)(1,26)(2,25)(3,26)(4,25)(5,25)(6,24)(7,23)(nan,nan)
(0,24)(0.5,25)(1,25)(2,24)(3,24)(4,23)(5,22)(6,21)(7,21)(7.1,21)(nan,nan)
(0,29)(0.5,29)(1,30)(2,29)(3,28)(4,29)(5,28)(6,28)(nan,nan)
(0,27)(0.5,26)(1,26)(2,27)(3,26)(4,26)(5,25)(5.5,26)(nan,nan)
(0,24)(0.5,25)(1,24)(2,23)(nan,nan)
(0,25)(0.5,25)(1,26)(2,25)(3,24)(nan,nan)
(0,26)(0.5,26)(1,25)(2,26)(nan,nan)
(0,27)(0.5,28)(1,27)(2,27)(3,28)(nan,nan)
(0,28)(0.5,28)(1,28)(2,29)(nan,nan)
(0,29)(0.5,29)(1,28)(2,28)(3,27)(nan,nan)
(0,30)(0.5,30)(1,30)(2,29)(3,30)(4,30)(nan,nan)
(0,24)(0.5,23)(1,22)(2,20)(nan,nan)
(0,25)(0.5,24)(1,25)(2,24)(3,22)(4,20)(nan,nan)
(0,26)(0.5,25)(1,24)(2,23)(3,21)(nan,nan)
(0,27)(0.5,26)(1,27)(2,25)(3,24)(4,23)(nan,nan)
(0,28)(0.5,29)(1,28)(2,27)(3,27)(4,26)(5,25)(nan,nan)
(0,29)(0.5,28)(1,29)(2,29)(3,28)(4,29)(nan,nan)
(0,30)(0.5,29)(1,29)(2,30)(3,29)(nan,nan)
(0,25)(0.5,26)(1,26)(2,27)(3,26)(nan,nan)
(0,26)(0.5,27)(1,26)(2,25)(3,25)(4,24)(nan,nan)
(0,27)(0.5,27)(1,26)(2,26)(3,25)(4,25)(5,24)(nan,nan)
(0,28)(0.5,27)(1,27)(2,26)(nan,nan)
(0,29)(0.5,30)(1,29)(nan,nan)
(0,24)(0.5,24)(1,23)(2,22)(3,20)(4,17)(nan,nan)
(0,25)(0.5,23)(1,24)(2,21)(3,19)(nan,nan)
(0,26)(0.5,26)(1,27)(2,26)(3,27)(4,26)(nan,nan)
(0,28)(0.5,28)(1,27)(2,28)(3,26)(4,27)(5,26)(6,25)(nan,nan)
(0,27)(0.5,25)(1,26)(2,24)(3,23)(4,22)(5,21)(6,22)(nan,nan)
(0,29)(0.5,28)(1,27)(2,27)(3,26)(4,27)(5,26)(6,25)(7,24)(nan,nan)
(0,30)(1,30)(2,30)(3,29)(4,30)(5,30)(6,30)(7,29)(8,28)(nan,nan)
(0,26)(0.5,25)(1,25)(2,24)(3,25)(4,23)(5,23)(nan,nan)
(0,25)(0.5,24)(1,23)(2,23)(3,22)(4,22)(5,21)(6,20)(7,19)(nan,nan)
(0,28)(0.5,29)(1,28)(2,28)(3,29)(4,28)(5,29)(6,28)(nan,nan)
(0,27)(0.5,28)(1,28)(2,29)(3,28)(4,28)(nan,nan)
(0,24)(0.5,26)(1,25)(2,26)(3,25)(nan,nan)
(0,29)(0.5,27)(1,28)(2,26)(3,27)(4,25)(5,24)(6,23)(7,22)(nan,nan)
(0,26)(0.5,27)(1,28)(2,27)(3,28)(4,29)(5,28)(nan,nan)
(0,30)(0.5,30)(1,29)(2,28)(3,28)(4,27)(5,28)(6,27)(7,26)(8,25)(nan,nan)
(0,28)(0.5,26)(1,25)(2,24)(3,23)(4,21)(5,19)(nan,nan)
(0,27)(0.5,28)(1,29)(2,28)(3,28)(4,27)(5,27)(6,26)(7,25)(8,24)(nan,nan)
(0,25)(0.5,25)(1,24)(2,24)(3,23)(nan,nan)
(0,29)(1,28)(2,29)(3,28)(4,27)(5,28)(6,27)(nan,nan)
(0,30)(0.5,30)(1,30)(1.5,29)(2,29)(3,28)(4,28)(5,27)(nan,nan)
(0,29)(0.5,29)(1,29)(1.5,28)(2,28)(3,27)(4,26)(5,25)(6,24)(nan,nan)
(0,28)(0.5,28)(1,27)(1.5,27)(2,26)(3,25)(4,24)(5,22)(6,20)(nan,nan)
(0,27)(0.5,27)(1,26)(1.5,25)(2,24)(3,23)(4,21)(5,19)(nan,nan)
(0,26)(0.5,26)(1,25)(1.5,24)(2,23)(3,21)(4,19)(5,17)(nan,nan)
(0,25)(0.5,25)(1,24)(1.5,23)(2,22)(3,20)(4,18)(nan,nan)
(0,24)(0.5,24)(1,23)(1.5,22)(2,21)(3,19)(nan,nan)
(0,30)(0.5,29)(1,30)(1.5,30)(2,30)(3,29)(4,29)(5,29)(6,28)(7,28)(8,27)(nan,nan)
(0,29)(0.5,30)(1,29)(1.5,29)(2,29)(3,30)(4,29)(5,28)(6,29)(7,28)(nan,nan)
(0,28)(0.5,29)(1,28)(1.5,28)(2,27)(3,28)(4,27)(5,27)(6,26)(nan,nan)
(0,27)(0.5,26)(1,27)(1.5,26)(2,26)(3,26)(4,25)(5,24)(6,24)(7,23)(nan,nan)
(0,26)(0.5,26)(1,26)(1.5,25)(2,25)(3,24)(4,24)(5,23)(nan,nan)
(0,25)(0.5,26)(1,25)(1.5,25)(2,24)(3,24)(4,23)(5,22)(6,21)(nan,nan)
(0,29)(0.5,28)(1,28)(2,27)(3,27)(4,26)(5,26)(6,25)(7,25)(8,24)(8.7,24)(nan,nan)
(0,28)(0.5,27)(1,27)(2,26)(3,26)(4,25)(5,24)(6,23)(7,22)(8,21)(nan,nan)
(0,30)(0.5,29)(1,29)(2,29)(3,28)(4,28)(5,27)(6,27)(7,26)(8,26)(nan,nan)
(0,27)(0.5,28)(1,28)(2,27)(3,28)(4,27)(5,28)(6,27)(7,27)(8,28)(8.4,28)(nan,nan)
(0,26)(0.5,25)(1,26)(2,25)(3,24)(4,23)(5,21)(6,19)(7,17)(nan,nan)
(0,28)(0.5,27)(1,26)(2,25)(3,23)(4,21)(5,18)(6,16)(nan,nan)
(0,29)(0.5,28)(1,28)(2,26)(3,25)(4,22)(5,20)(6,17)(6.4,17)(nan,nan)
(0,25)(0.5,24)(1,22)(2,21)(3,19)(4,16)(5,14)(nan,nan)
(0,27)(0.5,26)(1,25)(2,23)(3,21)(4,18)(5,15)(5.5,11)(nan,nan)
(0,26)(0.5,25)(1,24)(2,21)(3,17)(4,14)(4.5,12)(nan,nan)
(0,24)(0.5,23)(1,21)(2,19)(3,16)(4,12)(nan,nan)
(0,28)(0.5,27)(1,25)(2,23)(3,20)(4,16)(5,11)(6,9)(nan,nan)
(0,29)(0.5,28)(1,27)(2,25)(3,22)(4,18)(5,12)(6,10)(7,7)(nan,nan)
(0,30)(0.5,29)(1,28)(2,27)(3,26)(4,24)(5,22)(6,19)(7,17)(7.5,14)(nan,nan)
(0,27)(0.5,27)(1,26)(2,26)(3,25)(4,24)(5,22)(6,21)(7,20)(7.6,19)(nan,nan)
(0,24)(0.5,25)(1,24)(1.5,24)(2,24)(nan,nan)
(0,25)(0.5,24)(1,24)(1.5,25)(2,25)(nan,nan)
(0,26)(0.5,27)(1,26)(1.5,26)(2,27)(nan,nan)
(0,27)(0.5,26)(1,27)(1.5,28)(2,28)(nan,nan)
(0,28)(0.5,28)(1,29)(1.5,28)(2,28)(nan,nan)
(0,29)(0.5,29)(1,30)(1.5,29)(2,30)(nan,nan)
(0,30)(0.5,30)(1,29)(1.5,30)(2,29)(nan,nan)
(0,24)(0.5,22)(1,21)(1.5,20)(2,19)(nan,nan)
(0,26)(0.5,24)(1,23)(1.5,22)(2,21)(nan,nan)
(0,28)(0.5,26)(1,25)(1.5,24)(2,23)(nan,nan)
(0,25)(0.5,24)(1,22)(2,20)(3,17)(4,15)(nan,nan)
(0,26)(0.5,26)(1,25)(2,25)(3,24)(4,24)(5,23)(6,23)(7,22)(nan,nan)
(0,29)(0.5,29)(1,29)(2,28)(3,28)(4,28)(5,27)(6,27)(7,27)(8,26)(nan,nan)
(0,30)(0.5,30)(1,30)(2,30)(3,30)(4,29)(5,29)(6,29)(7,28)(8,29)(8.5,29)(nan,nan)
(0,28)(0.5,28)(1,28)(2,28)(3,27)(4,27)(5,26)(6,25)(7,24)(8,23)(nan,nan)
(0,27)(0.5,27)(1,27)(2,26)(3,25)(4,25)(5,24)(6,23)(nan,nan)
(0,25)(1,25)(2,24)(3,23)(4,22)(5,21)(6,20)(7,18)(nan,nan)
(0,24)(0.5,24)(1,25)(2,24)(3,23)(4,22)(nan,nan)
(0,26)(0.5,26)(1,27)(2,27)(3,26)(4,26)(5,25)(nan,nan)
(0,29)(0.5,30)(1,30)(2,29)(3,29)(4,28)(5,28)(6,27)(7,26)(nan,nan)
};
\addplot[fup] coordinates {(1.5,-1.5) (1.5,31.5)};
\addplot[black, line width=2.6bp] coordinates {(0,27.2) (8.95,22.8)};
\end{axis}

% ---------------- F: MMSE permutation histogram
\begin{axis}[panel, at={(368.3bp,48bp)}, anchor=south west,
  width=275.7bp, height=265bp,
  xmin=-1.079, xmax=1.088, ymin=-38.9, ymax=817,
  xtick={-1,-0.5,0,0.5,1},
  xticklabels={−1.0,−0.5,0.0,0.5,1.0},
  ytick={0,200,400,600,800},
  xlabel={Group difference in MMSE\\progression at month 18}, ylabel={Count},
  xlabel style={at={(axis description cs:0.52,-0.121)}},
  ylabel style={at={(axis description cs:-0.168,0.513)}},
]
\addplot[vdash, draw=vorange] coordinates {(-0.145,-38.9) (-0.145,817)};
\addplot[vdash, draw=vyellow] coordinates {(-0.1,-38.9) (-0.1,817)};
\addplot[vdash, draw=vgreen] coordinates {(0.489,-38.9) (0.489,817)};
\addplot[vdash, draw=vblue] coordinates {(0.599,-38.9) (0.599,817)};
\addplot[hist] table[x=x, y=y] {\histF};
\addplot[vsolid] coordinates {(-0.415,-38.9) (-0.415,817)};
\addplot[vsolid] coordinates {(0.423,-38.9) (0.423,817)};
\end{axis}

% panel letters
\node[font=\fontsize{15}{18}\selectfont] at (9bp,968.5bp) {A};
\node[font=\fontsize{15}{18}\selectfont] at (323bp,968.5bp) {B};
\node[font=\fontsize{15}{18}\selectfont] at (9bp,644bp) {C};
\node[font=\fontsize{15}{18}\selectfont] at (323bp,644bp) {D};
\node[font=\fontsize{15}{18}\selectfont] at (8.5bp,310.5bp) {E};
\node[font=\fontsize{15}{18}\selectfont] at (323.5bp,311bp) {F};
\end{tikzpicture}
\end{document}
